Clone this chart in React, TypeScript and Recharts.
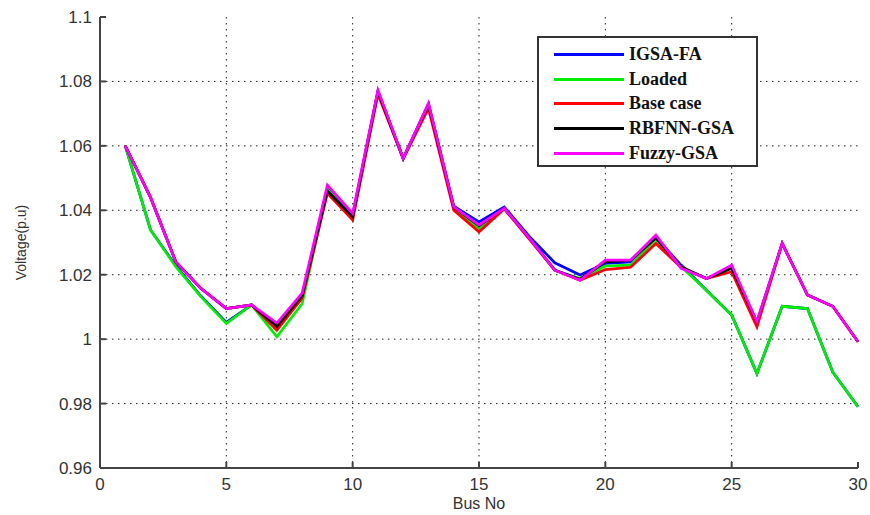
import React from "react";
import { CartesianGrid, Line, LineChart, XAxis, YAxis } from "recharts";

const buses = [1, 2, 3, 4, 5, 6, 7, 8, 9, 10, 11, 12, 13, 14, 15, 16, 17, 18, 19, 20, 21, 22, 23, 24, 25, 26, 27, 28, 29, 30];

const igsaFa = [1.06, 1.0339, 1.0228, 1.0133, 1.0052, 1.0106, 1.004, 1.013, 1.047, 1.0385, 1.077, 1.0561, 1.073, 1.0413, 1.0364, 1.041, 1.0318, 1.0237, 1.0199, 1.0235, 1.024, 1.0315, 1.023, 1.0152, 1.0075, 0.9893, 1.0102, 1.0095, 0.9898, 0.979];
const loaded = [1.06, 1.0339, 1.0225, 1.0131, 1.0049, 1.0106, 1.0007, 1.011, 1.0465, 1.038, 1.0768, 1.0561, 1.0725, 1.0405, 1.034, 1.0406, 1.0313, 1.0214, 1.0188, 1.0227, 1.023, 1.031, 1.0225, 1.0152, 1.0075, 0.9893, 1.0102, 1.0095, 0.9898, 0.979];
const baseCase = [1.06, 1.044, 1.024, 1.0157, 1.0095, 1.0106, 1.0028, 1.0127, 1.0453, 1.037, 1.076, 1.056, 1.0716, 1.04, 1.0333, 1.0404, 1.031, 1.0214, 1.0183, 1.0216, 1.0223, 1.0297, 1.0222, 1.0188, 1.0209, 1.0038, 1.0297, 1.0137, 1.0102, 0.9992];
const rbfnnGsa = [1.06, 1.044, 1.024, 1.0157, 1.0095, 1.0106, 1.004, 1.0135, 1.046, 1.038, 1.0768, 1.0561, 1.0728, 1.041, 1.0352, 1.0406, 1.0313, 1.0214, 1.0186, 1.024, 1.0245, 1.0314, 1.0225, 1.0188, 1.022, 1.0054, 1.0297, 1.0137, 1.0102, 0.9992];
const fuzzyGsa = [1.06, 1.044, 1.024, 1.0157, 1.0095, 1.0106, 1.005, 1.0143, 1.0478, 1.039, 1.0773, 1.0561, 1.0732, 1.0411, 1.0354, 1.0406, 1.0313, 1.0214, 1.0183, 1.0245, 1.0245, 1.0323, 1.022, 1.0188, 1.023, 1.0054, 1.0297, 1.0137, 1.0102, 0.9992];

const xTicks = [0, 5, 10, 15, 20, 25, 30];
const yTicks = [0.96, 0.98, 1, 1.02, 1.04, 1.06, 1.08, 1.1];

const series = [
  { key: "igsa", name: "IGSA-FA", color: "#0000ff", width: 2.7 },
  { key: "loaded", name: "Loaded", color: "#00ee00", width: 2.7 },
  { key: "base", name: "Base case", color: "#ff0000", width: 2.7 },
  { key: "rbfnn", name: "RBFNN-GSA", color: "#000000", width: 2.7 },
  { key: "fuzzy", name: "Fuzzy-GSA", color: "#ff00ff", width: 2.7 },
];

const data = buses.map((b, i) => ({
  bus: b,
  igsa: igsaFa[i],
  loaded: loaded[i],
  base: baseCase[i],
  rbfnn: rbfnnGsa[i],
  fuzzy: fuzzyGsa[i],
}));

const axisColor = "#444";
const tickStyle = { fontFamily: "Liberation Sans, Arial, sans-serif", fontSize: 17, fill: "#333" };

function LegendBox() {
  return (
    <div
      style={{
        position: "absolute",
        left: 537,
        top: 36,
        width: 221,
        height: 131,
        border: "2px solid #333",
        background: "#fff",
        boxSizing: "border-box",
        paddingTop: 4,
      }}
    >
      {series.map((s) => (
        <div key={s.key} style={{ display: "flex", alignItems: "center", height: 24.7 }}>
          <div style={{ width: 70, height: 3, background: s.color, marginLeft: 15, marginRight: 5 }} />
          <span
            style={{
              fontFamily: "Liberation Serif, 'Times New Roman', serif",
              fontWeight: "bold",
              fontSize: 18,
              color: "#111",
            }}
          >
            {s.name}
          </span>
        </div>
      ))}
    </div>
  );
}

export default function App() {
  return (
    <div style={{ position: "absolute", left: 0, top: 0, width: 870, height: 515, background: "#fff" }}>
      <LineChart width={870} height={515} data={data} margin={{ top: 17, right: 12, left: 0, bottom: 0 }}>
        <CartesianGrid stroke="#222" strokeDasharray="1.5 4.5" horizontalValues={[0.98, 1, 1.02, 1.04, 1.06, 1.08]} verticalValues={[5, 10, 15, 20, 25]} />
        <XAxis
          dataKey="bus"
          type="number"
          domain={[0, 30]}
          ticks={xTicks}
          height={47}
          stroke={axisColor}
          strokeWidth={2}
          tickSize={-6}
          tickMargin={16}
          tick={tickStyle}
          label={{ value: "Bus No", position: "insideBottom", offset: 6, style: { ...tickStyle, fontSize: 16 } }}
        />
        <XAxis xAxisId="top" dataKey="bus" type="number" domain={[0, 30]} ticks={xTicks} orientation="top" height={0} stroke={axisColor} strokeWidth={2} tickSize={-6} tick={false} />
        <YAxis
          type="number"
          domain={[0.96, 1.1]}
          ticks={yTicks}
          width={100}
          stroke={axisColor}
          strokeWidth={2}
          tickSize={-6}
          tickMargin={14}
          tick={tickStyle}
          allowDataOverflow
          label={{ value: "Voltage(p.u)", angle: -90, position: "insideLeft", offset: 21, style: { ...tickStyle, fontSize: 14, textAnchor: "middle" } }}
        />
        <YAxis yAxisId="right" type="number" domain={[0.96, 1.1]} ticks={yTicks} orientation="right" width={0} stroke={axisColor} strokeWidth={2} tickSize={-6} tick={false} />
        {series.map((s) => (
          <Line
            key={s.key}
            type="linear"
            dataKey={s.key}
            name={s.name}
            stroke={s.color}
            strokeWidth={s.width}
            dot={false}
            isAnimationActive={false}
          />
        ))}
      </LineChart>
      <LegendBox />
    </div>
  );
}
